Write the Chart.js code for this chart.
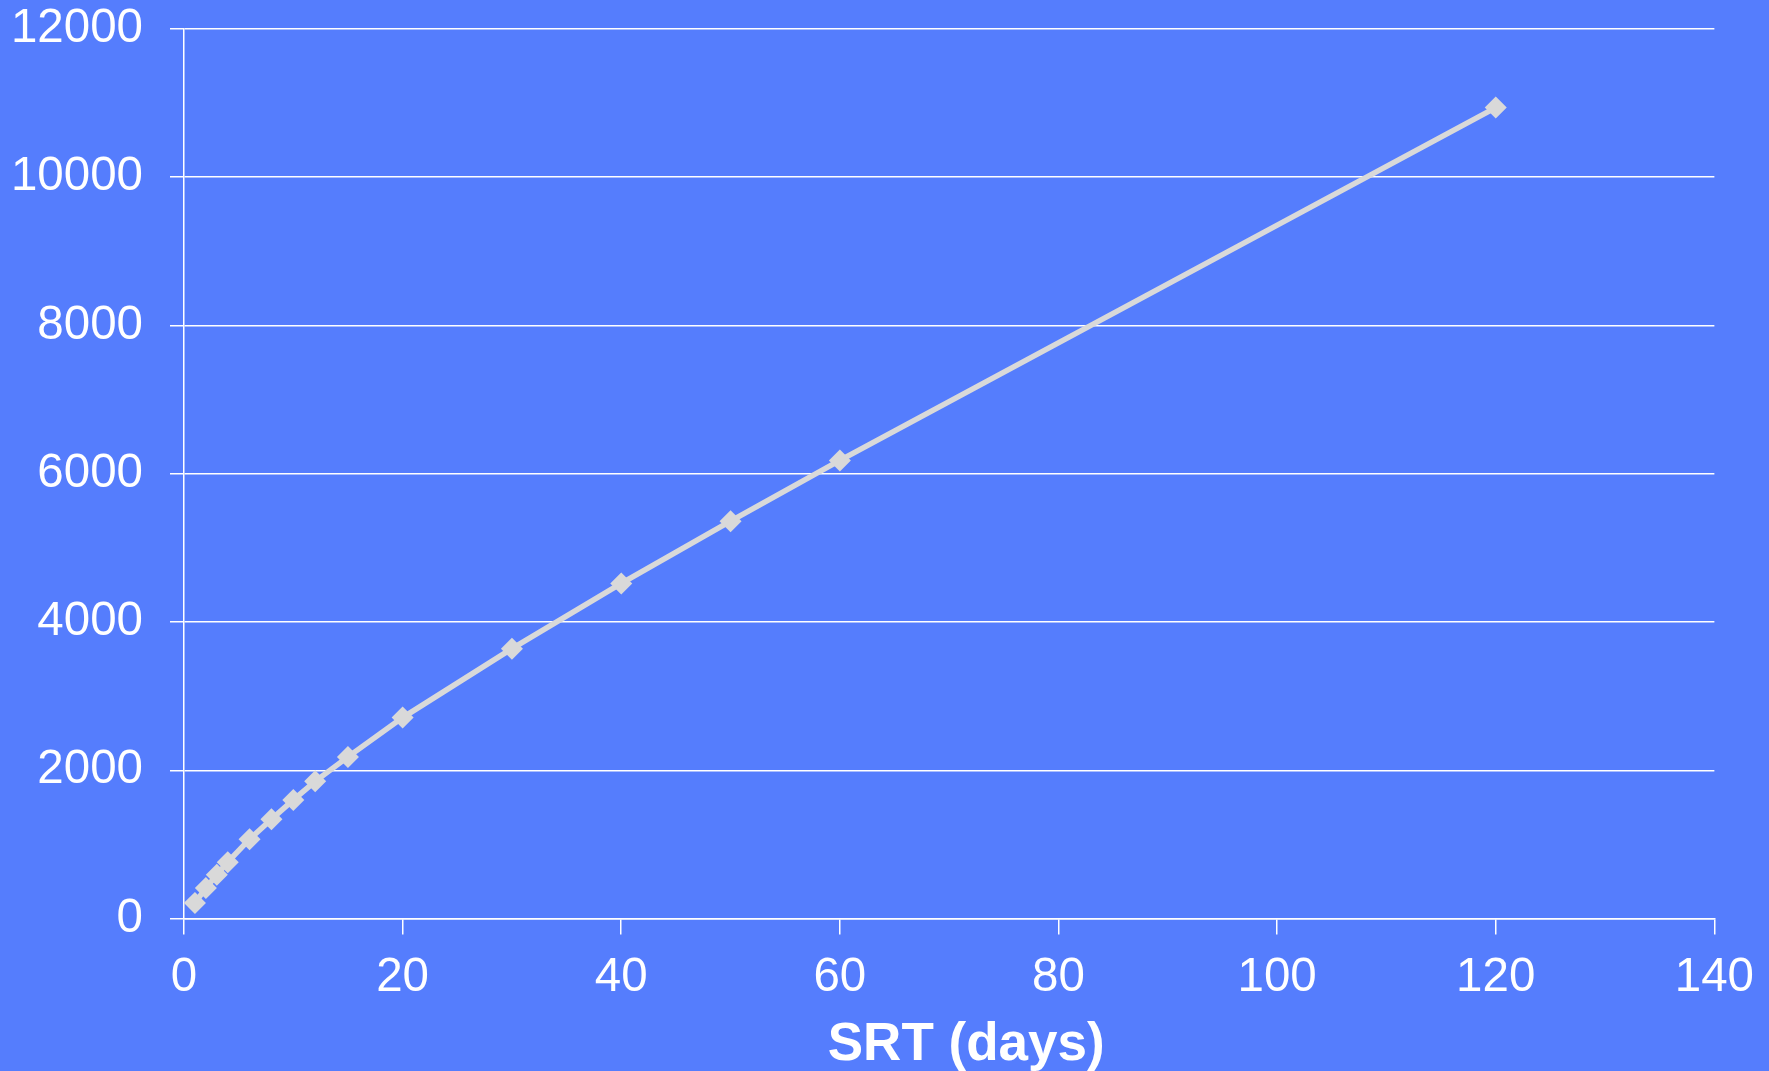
<!DOCTYPE html>
<html>
<head>
<meta charset="utf-8">
<script src="https://cdn.jsdelivr.net/npm/chart.js@4/dist/chart.umd.min.js"></script>
<style>
  html, body { margin: 0; padding: 0; background: rgb(85,125,253); }
  #wrap { width: 1769px; height: 1071px; }
</style>
</head>
<body>
<div id="wrap"><canvas id="c" width="1769" height="1071"></canvas></div>
<script>
// Sludge retention time (days) and the corresponding values
const srtDays = [1, 2, 3, 4, 6, 8, 10, 12, 15, 20, 30, 40, 50, 60, 120];
const values  = [210, 410, 590, 760, 1070, 1340, 1600, 1850, 2180, 2710, 3640, 4520, 5360, 6180, 10940];
const xTicks = [0, 20, 40, 60, 80, 100, 120, 140];
const yTicks = [0, 2000, 4000, 6000, 8000, 10000, 12000];
const xTitle = 'SRT (days)';

const points = srtDays.map((d, i) => ({ x: d, y: values[i] }));
const FONT = '"Liberation Sans", Arial, sans-serif';

// Axis title under the x axis, centred a little right of the plot centre
const xTitlePlugin = {
  id: 'xTitle',
  afterDraw(chart) {
    const { ctx, chartArea } = chart;
    ctx.save();
    ctx.fillStyle = '#ffffff';
    ctx.font = 'bold 53px ' + FONT;
    ctx.textAlign = 'center';
    ctx.textBaseline = 'middle';
    ctx.fillText(xTitle, (chartArea.left + chartArea.right) / 2 + 17, chartArea.bottom + 127);
    ctx.restore();
  }
};

new Chart(document.getElementById('c'), {
  type: 'line',
  data: {
    datasets: [{
      data: points,
      borderColor: '#d9d9d9',
      backgroundColor: '#d9d9d9',
      borderWidth: 5.5,
      pointStyle: 'rectRot',
      pointRadius: 11,
      pointHoverRadius: 11,
      pointBorderWidth: 0,
      tension: 0
    }]
  },
  options: {
    responsive: false,
    animation: false,
    layout: { padding: { left: 0, right: 54, top: 29, bottom: 0 } },
    plugins: { legend: { display: false }, tooltip: { enabled: false } },
    scales: {
      x: {
        type: 'linear',
        min: xTicks[0],
        max: xTicks[xTicks.length - 1],
        afterBuildTicks: s => { s.ticks = xTicks.map(v => ({ value: v })); },
        afterFit: s => { s.height = 152.5; },
        grid: { drawOnChartArea: false, drawTicks: true, tickLength: 16, color: '#ffffff', lineWidth: 1.5 },
        border: { color: '#ffffff', width: 1.5 },
        ticks: { color: '#ffffff', font: { family: FONT, size: 47.5 }, padding: 15, maxRotation: 0,
                 callback: v => String(v) }
      },
      y: {
        type: 'linear',
        min: yTicks[0],
        max: yTicks[yTicks.length - 1],
        afterBuildTicks: s => { s.ticks = yTicks.map(v => ({ value: v })); },
        afterFit: s => { s.width = 184; s.paddingTop = 0; s.paddingBottom = 0; },
        grid: { color: '#ffffff', lineWidth: 1.5, tickLength: 14 },
        border: { color: '#ffffff', width: 1.5 },
        ticks: { color: '#ffffff', font: { family: FONT, size: 47.5 }, padding: 27,
                 callback: v => String(v) }
      }
    }
  },
  plugins: [xTitlePlugin]
});
</script>
</body>
</html>
